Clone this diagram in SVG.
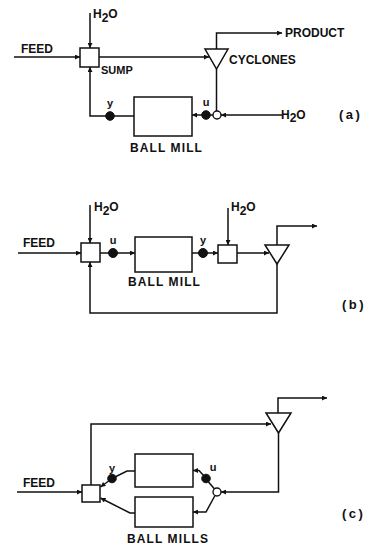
<svg xmlns="http://www.w3.org/2000/svg" width="367" height="549" viewBox="0 0 367 549">
<style>
.ln{fill:none;stroke:#111;stroke-width:1.5;stroke-linejoin:miter}
.arr{marker-end:url(#ah)}
.bx{fill:#fff;stroke:#111;stroke-width:1.5}
.dot{fill:#111;stroke:#111;stroke-width:1}
.oc{fill:#fff;stroke:#111;stroke-width:1.4}
text{font-family:"Liberation Sans",Arial,sans-serif;font-weight:bold;font-size:12px;fill:#111}
.sm{font-size:11px}
.lbl{font-size:11px;text-anchor:middle}
.bm{letter-spacing:1.1px}
.pl{letter-spacing:2.5px;font-size:13px}
</style>
<defs>
<marker id="ah" viewBox="0 0 6 6" refX="6" refY="3" markerWidth="6" markerHeight="5" markerUnits="userSpaceOnUse" orient="auto">
<path d="M0,0 L6,3 L0,6 z" fill="#111"/>
</marker>
</defs>

<g id="connectors">
<!-- (a) -->
<path class="ln arr" d="M14 57 H80"/>
<path class="ln arr" d="M90 13 V48"/>
<path class="ln arr" d="M99 57 H209"/>
<path class="ln arr" d="M216.5 49 V33 H282"/>
<path class="ln" d="M216.5 69 V111"/>
<path class="ln arr" d="M282 115 H221"/>
<path class="ln" d="M213 115 H206"/>
<path class="ln arr" d="M202 115 H192"/>
<path class="ln" d="M134 116 H112"/>
<path class="ln arr" d="M108 116 H90 V67"/>

<!-- (b) -->
<path class="ln arr" d="M18 253 H81"/>
<path class="ln arr" d="M90 205 V243"/>
<path class="ln" d="M100 253 H110"/>
<path class="ln arr" d="M116 253 H135"/>
<path class="ln" d="M192 253 H200"/>
<path class="ln arr" d="M206 253 H218"/>
<path class="ln arr" d="M228 208 V245"/>
<path class="ln arr" d="M237 253 H269"/>
<path class="ln arr" d="M277 245 V226 H317"/>
<path class="ln arr" d="M277 264 V313 H90 V262"/>

<!-- (c) -->
<path class="ln arr" d="M17 492 H82"/>
<path class="ln arr" d="M91 485 V424 H271"/>
<path class="ln arr" d="M278 413 V398 H327"/>
<path class="ln arr" d="M278.5 433 V492 H221"/>
<path class="ln" d="M214.5 489 L206 479"/>
<path class="ln arr" d="M204 476 L199 470.5 H193"/>
<path class="ln arr" d="M215 495.5 L206 512 H193"/>
<path class="ln" d="M135 471 H127 L113 478"/>
<path class="ln arr" d="M110 480 L100.5 487"/>
<path class="ln arr" d="M135 513 H130 L100.5 498"/>
</g>

<g id="a-feed"><text x="21" y="53">FEED</text></g>
<g id="a-h2o-top"><text x="93" y="18">H<tspan dy="4">2</tspan><tspan dy="-4">O</tspan></text></g>
<g id="a-sump"><rect class="bx" x="80" y="48" width="19" height="19"/><text class="sm" x="101" y="74">SUMP</text></g>
<g id="a-cyclones"><polygon class="bx" points="205,49 228,49 216.5,69"/><text x="229" y="64">CYCLONES</text></g>
<g id="a-product"><text x="285" y="37">PRODUCT</text></g>
<g id="a-mixer"><circle class="oc" cx="217" cy="115" r="4"/></g>
<g id="a-h2o-right"><text x="281" y="119">H<tspan dy="3">2</tspan><tspan dy="-3">O</tspan></text></g>
<g id="a-u"><circle class="dot" cx="206" cy="115" r="4.3"/><text class="lbl" x="206" y="106">u</text></g>
<g id="a-ballmill"><rect class="bx" x="134" y="97" width="58" height="39"/><text class="bm" x="130" y="152">BALL MILL</text></g>
<g id="a-y"><circle class="dot" cx="110" cy="116" r="4.3"/><text class="lbl" x="110" y="107">y</text></g>
<g id="a-label"><text class="pl" x="339" y="119">(a)</text></g>

<g id="b-feed"><text x="23" y="247">FEED</text></g>
<g id="b-h2o-1"><text x="94" y="211">H<tspan dy="4">2</tspan><tspan dy="-4">O</tspan></text></g>
<g id="b-sump"><rect class="bx" x="81" y="243" width="19" height="19"/></g>
<g id="b-u"><circle class="dot" cx="113" cy="253" r="4.5"/><text class="lbl" x="113" y="244">u</text></g>
<g id="b-ballmill"><rect class="bx" x="135" y="237" width="57" height="35"/><text class="bm" x="128" y="286">BALL MILL</text></g>
<g id="b-y"><circle class="dot" cx="203" cy="253" r="4.5"/><text class="lbl" x="203" y="244">y</text></g>
<g id="b-sump2"><rect class="bx" x="218" y="245" width="19" height="18"/></g>
<g id="b-h2o-2"><text x="231" y="211">H<tspan dy="4">2</tspan><tspan dy="-4">O</tspan></text></g>
<g id="b-cyclone"><polygon class="bx" points="265,245 289,245 277,264"/></g>
<g id="b-label"><text class="pl" x="342" y="309">(b)</text></g>

<g id="c-feed"><text x="23" y="487">FEED</text></g>
<g id="c-sump"><rect class="bx" x="82" y="485" width="18" height="17"/></g>
<g id="c-cyclone"><polygon class="bx" points="266,413 291,413 278.5,433"/></g>
<g id="c-mill1"><rect class="bx" x="135" y="454" width="58" height="33"/></g>
<g id="c-mill2"><rect class="bx" x="135" y="497" width="58" height="30"/><text class="bm" x="127" y="543">BALL MILLS</text></g>
<g id="c-mixer"><circle class="oc" cx="217" cy="492" r="4"/></g>
<g id="c-u"><circle class="dot" cx="206" cy="478.5" r="4.3"/><text class="lbl" x="213" y="471">u</text></g>
<g id="c-y"><circle class="dot" cx="112" cy="478.5" r="4.3"/><text class="lbl" x="112" y="472">y</text></g>
<g id="c-label"><text class="pl" x="342" y="518">(c)</text></g>
</svg>
